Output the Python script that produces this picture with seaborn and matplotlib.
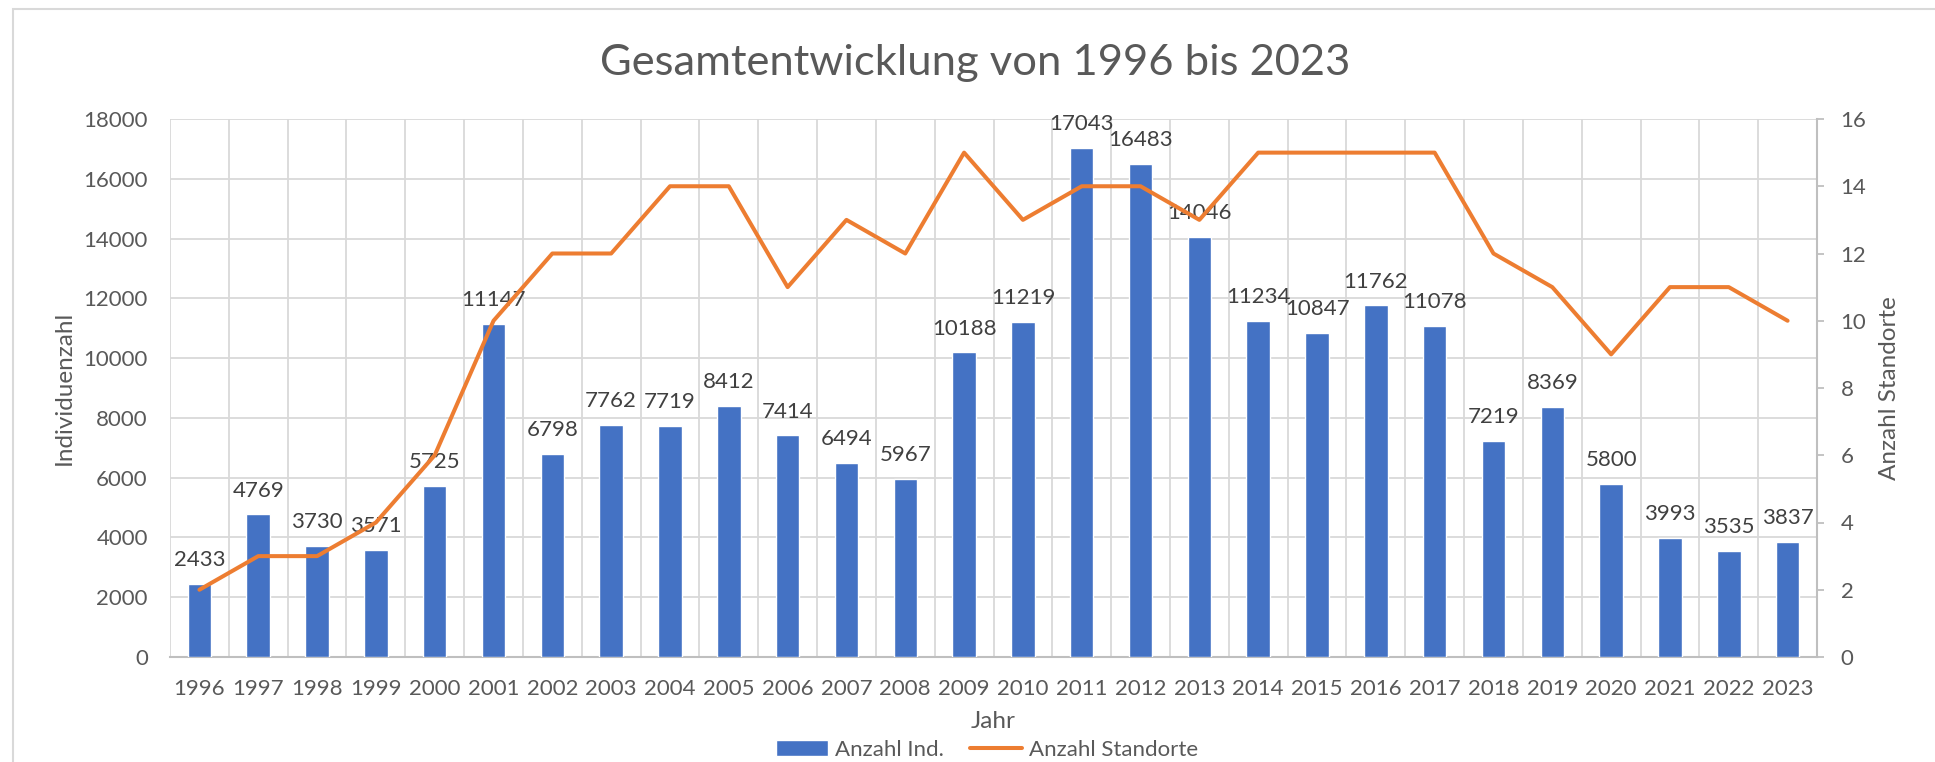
import numpy as np
import pandas as pd
import matplotlib
matplotlib.use("Agg")
import matplotlib.pyplot as plt
from matplotlib.patches import Rectangle
from matplotlib.ticker import FixedLocator
import seaborn as sns

# ---- data ----
years = ["1996", "1997", "1998", "1999", "2000", "2001", "2002", "2003", "2004", "2005",
         "2006", "2007", "2008", "2009", "2010", "2011", "2012", "2013", "2014", "2015",
         "2016", "2017", "2018", "2019", "2020", "2021", "2022", "2023"]
anzahl_ind = [2433, 4769, 3730, 3571, 5725, 11147, 6798, 7762, 7719, 8412,
              7414, 6494, 5967, 10188, 11219, 17043, 16483, 14046, 11234, 10847,
              11762, 11078, 7219, 8369, 5800, 3993, 3535, 3837]
anzahl_standorte = [2, 3, 3, 4, 6, 10, 12, 12, 14, 14,
                    11, 13, 12, 15, 13, 14, 14, 13, 15, 15,
                    15, 15, 12, 11, 9, 11, 11, 10]
left_ticks = [0, 2000, 4000, 6000, 8000, 10000, 12000, 14000, 16000, 18000]
right_ticks = [0, 2, 4, 6, 8, 10, 12, 14, 16]

title = "Gesamtentwicklung von 1996 bis 2023"
xlabel = "Jahr"
ylabel_left = "Individuenzahl"
ylabel_right = "Anzahl Standorte"
label_bar = "Anzahl Ind."
label_line = "Anzahl Standorte"

# ---- style ----
sns.set_theme(style="white")
plt.rcParams["font.family"] = ["Lato", "DejaVu Sans"]

BLUE = "#4472C4"
ORANGE = "#ED7D31"
GRID = "#D9D9D9"
TXT = "#595959"
LBL = "#404040"

df = pd.DataFrame({"Jahr": years, "Ind": anzahl_ind, "Standorte": anzahl_standorte})

fig = plt.figure(figsize=(19.35, 7.62), dpi=100)
fig.patch.set_facecolor("white")
ax = fig.add_axes([170 / 1935, 1 - 657 / 762, (1817 - 170) / 1935, (657 - 119) / 762])

sns.barplot(data=df, x="Jahr", y="Ind", color=BLUE, saturation=1, width=0.4,
            errorbar=None, ax=ax, label=label_bar, zorder=3)
ax.set_xlim(-0.5, len(years) - 0.5)
ax.set_ylim(0, 18000)
ax.yaxis.set_major_locator(FixedLocator(left_ticks))
ax.set_yticklabels([str(t) for t in left_ticks])
ax.xaxis.set_minor_locator(FixedLocator(np.arange(-0.5, len(years), 1.0)))
ax.grid(True, which="major", axis="y", color=GRID, linewidth=1.3, zorder=0)
ax.grid(True, which="minor", axis="x", color=GRID, linewidth=1.3, zorder=0)
ax.grid(False, which="major", axis="x")
ax.set_axisbelow(True)
for s in ["top", "left", "right"]:
    ax.spines[s].set_visible(False)
ax.spines["bottom"].set_color("#BFBFBF")
ax.spines["bottom"].set_linewidth(1.5)
ax.tick_params(axis="x", which="both", length=0, pad=16, labelsize=16, labelcolor=TXT)
ax.tick_params(axis="y", length=0, pad=16, labelsize=16, labelcolor=TXT)

for c in ax.containers:
    ax.bar_label(c, padding=10, fontsize=16, color=LBL)

ax.set_xlabel(xlabel, fontsize=17.5, color=TXT)
ax.xaxis.set_label_coords(0.5, -0.12)
ax.xaxis.label.set_va("center")
ax.set_ylabel(ylabel_left, fontsize=17.5, color=TXT)
ax.yaxis.label.set_va("center")
ax.yaxis.set_label_coords((64 - 170) / 1647, 0.5)

# secondary axis
ax2 = ax.twinx()
sns.lineplot(x=np.arange(len(years)), y=anzahl_standorte, ax=ax2, color=ORANGE,
             linewidth=2.9, label=label_line, zorder=4)
ax2.set_ylim(0, 16)
ax2.yaxis.set_major_locator(FixedLocator(right_ticks))
ax2.set_yticklabels([str(t) for t in right_ticks])
ax2.grid(False)
for s in ["top", "left", "bottom"]:
    ax2.spines[s].set_visible(False)
ax2.spines["right"].set_color("#BFBFBF")
ax2.spines["right"].set_linewidth(1.5)
ax2.tick_params(axis="y", length=5, width=1.3, color="#BFBFBF", pad=12,
                labelsize=16, labelcolor=TXT, direction="out")
ax2.set_ylabel(ylabel_right, fontsize=17.5, color=TXT)
ax2.yaxis.label.set_va("center")
ax2.yaxis.set_label_coords((1889 - 170) / 1647, 0.5)
ax2.set_xlim(-0.5, len(years) - 0.5)

# legend
h1, l1 = ax.get_legend_handles_labels()
h2, l2 = ax2.get_legend_handles_labels()
for a in (ax, ax2):
    if a.get_legend() is not None:
        a.get_legend().remove()
fig.legend(h1 + h2, l1 + l2, loc="center", bbox_to_anchor=(987 / 1935, 1 - 749.5 / 762),
           ncol=2, frameon=False, fontsize=16, labelcolor=TXT,
           handlelength=2.35, handleheight=0.7, handletextpad=0.3, columnspacing=1.2)

# title
fig.text(975 / 1935, 1 - 75 / 762, title, ha="center", va="baseline",
         fontsize=31.3, color=TXT)

# chart border
fig.patches.append(Rectangle((13 / 1935, -0.2), 1.2, 1.2 - 9 / 762, transform=fig.transFigure,
                             fill=False, edgecolor=GRID, linewidth=1.5))

fig.savefig("out.png", dpi=100, facecolor="white")
